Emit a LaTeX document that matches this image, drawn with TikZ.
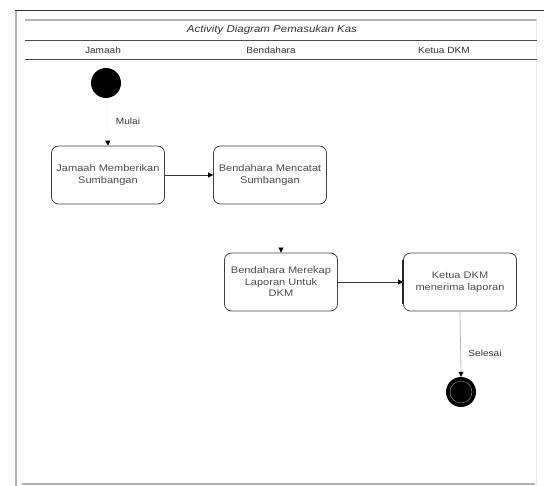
\documentclass[tikz,border=0pt]{standalone}
\usepackage{fontspec}
\setmainfont{Liberation Sans}
\newfontfamily\boxfont[FakeStretch=1.15]{Liberation Sans}
\newfontfamily\headfont[FakeStretch=1.12]{Liberation Sans}
\usetikzlibrary{arrows.meta}
\begin{document}
\begin{tikzpicture}[x=1pt,y=-1pt,
  txt/.style={font=\headfont\fontsize{9}{10.5}\selectfont, text=black!80},
  act/.style={draw=black!75, line width=0.8pt, rounded corners=7pt, align=center,
    minimum width=113pt, minimum height=58pt, inner sep=1pt,
    font=\boxfont\fontsize{9.6}{11.5}\selectfont, text=black!70},
  flow/.style={draw=black!80, line width=0.7pt, -{Triangle[length=5pt,width=5pt,color=black]}},
  lane/.style={draw=black!70, line width=0.8pt}]
\useasboundingbox (0,0) rectangle (544,486);
\fill[white] (0,0) rectangle (544,486);
% frame
\draw[black!80, line width=1pt] (15,11) -- (544,11);
\draw[black!30, line width=1.5pt] (16,11) -- (16,486);
\draw[black!30, line width=1.5pt] (25,20) -- (537,20);
\draw[black!8, line width=0.8pt] (536,20) -- (536,484);
\draw[black!30, line width=1.2pt] (22,484) -- (535,484);
\draw[lane] (25,40) -- (537,40);
\draw[lane] (25,59) -- (537,59);
\node[txt, font=\boxfont\fontsize{10}{11.5}\selectfont\itshape] (title) at (272,30) {Activity Diagram Pemasukan Kas};
\node[txt] (h1) at (103,50) {Jamaah};
\node[txt] (h2) at (271,50) {Bendahara};
\node[txt] (h3) at (444,50) {Ketua DKM};
% nodes
\node[circle, fill=black, minimum size=30pt, inner sep=0pt] (start) at (106,83) {};
\node[act] (a1) at (108,175) {Jamaah Memberikan\\Sumbangan};
\node[act] (a2) at (270,175) {Bendahara Mencatat\\Sumbangan};
\node[act] (a3) at (281,282) {Bendahara Merekap\\Laporan Untuk\\DKM};
\node[act] (a4) at (460,282) {Ketua DKM\\menerima laporan};
\node[circle, fill=black, minimum size=30pt, inner sep=0pt] (end) at (461,392) {};
\draw[black!45, line width=0.4pt] (end.center) circle (11pt);
\draw[black!85, line width=2.5pt] ([yshift=-7pt]a4.north west) -- ([yshift=7pt]a4.south west);
% connectors
\draw[flow, draw=black!3] (start) -- (a1.north);
\node[txt] (mulai) at (128,121) {Mulai};
\draw[flow] (a1.east) -- (a2.west);
\coordinate (s3) at ([yshift=6pt]a3.north);
\draw[flow, draw=black!10] (s3) -- (a3.north);
\draw[flow] (a3.east) -- (a4.west);
\draw[flow, draw=black!30] (a4.south) -- (end.north);
\node[txt, fill=white, inner sep=1pt] (selesai) at (485,353) {Selesai};
\end{tikzpicture}
\end{document}
